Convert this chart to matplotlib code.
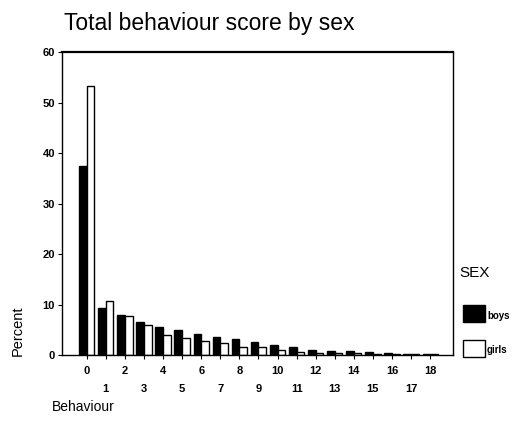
import matplotlib.pyplot as plt
import numpy as np
from matplotlib.patches import Rectangle

plt.rcParams['font.family'] = ['Liberation Sans', 'DejaVu Sans']

scores = list(range(19))
boys = [37.5, 9.4, 8.0, 6.6, 5.6, 5.0, 4.2, 3.6, 3.2, 2.6, 2.0, 1.6, 1.0, 0.8, 0.8, 0.5, 0.4, 0.2, 0.2]
girls = [53.3, 10.6, 7.8, 6.0, 4.0, 3.4, 2.8, 2.4, 1.6, 1.6, 1.0, 0.6, 0.4, 0.4, 0.3, 0.2, 0.1, 0.1, 0.1]
yticks = [0, 10, 20, 30, 40, 50, 60]

fig = plt.figure(figsize=(5.16, 4.38), dpi=100)
ax = fig.add_axes([0.120, 0.1895, 0.758, 0.6915])

x = np.array(scores)
ax.bar(x - 0.2, boys, width=0.4, color='black', edgecolor='black', linewidth=1)
ax.bar(x + 0.2, girls, width=0.4, color='white', edgecolor='black', linewidth=1)

ax.set_xlim(-1.3, 19.2)
ax.set_ylim(0, 60)
ax.set_yticks(yticks)
ax.set_yticklabels([str(v) for v in yticks], fontsize=8, fontweight='bold')

ax.set_xticks([s for s in scores if s % 2 == 0])
ax.set_xticklabels([str(s) for s in scores if s % 2 == 0], fontsize=8, fontweight='bold')
ax.set_xticks([s for s in scores if s % 2 == 1], minor=True)
ax.set_xticklabels([str(s) for s in scores if s % 2 == 1], minor=True, fontsize=8, fontweight='bold')
ax.tick_params(axis='x', which='major', length=3, width=0.8, pad=5)
ax.tick_params(axis='x', which='minor', length=3, width=0.8, pad=18)
ax.tick_params(axis='y', length=3, width=0.8, pad=2)

for s in ax.spines.values():
    s.set_linewidth(1.0)
ax.spines['top'].set_linewidth(1.6)

fig.text(0.124, 0.947, 'Total behaviour score by sex', fontsize=16.5, va='center', ha='left')
fig.text(0.035, 0.245, 'Percent', rotation=90, fontsize=10.5, va='center', ha='center')
fig.text(0.100, 0.071, 'Behaviour', fontsize=10, va='center', ha='left')
fig.text(0.891, 0.377, 'SEX', fontsize=11, va='center', ha='left')

fig.patches.append(Rectangle((463 / 516, 1 - 322 / 438), 22 / 516, 17 / 438,
                             transform=fig.transFigure, facecolor='black', edgecolor='black'))
fig.patches.append(Rectangle((463 / 516, 1 - 357 / 438), 22 / 516, 17 / 438,
                             transform=fig.transFigure, facecolor='white', edgecolor='black', linewidth=1))
fig.text(487 / 516, 1 - 316 / 438, 'boys', fontsize=7, fontweight='bold', va='center', ha='left')
fig.text(487 / 516, 1 - 350 / 438, 'girls', fontsize=7, fontweight='bold', va='center', ha='left')

fig.savefig('out.png', dpi=100)
